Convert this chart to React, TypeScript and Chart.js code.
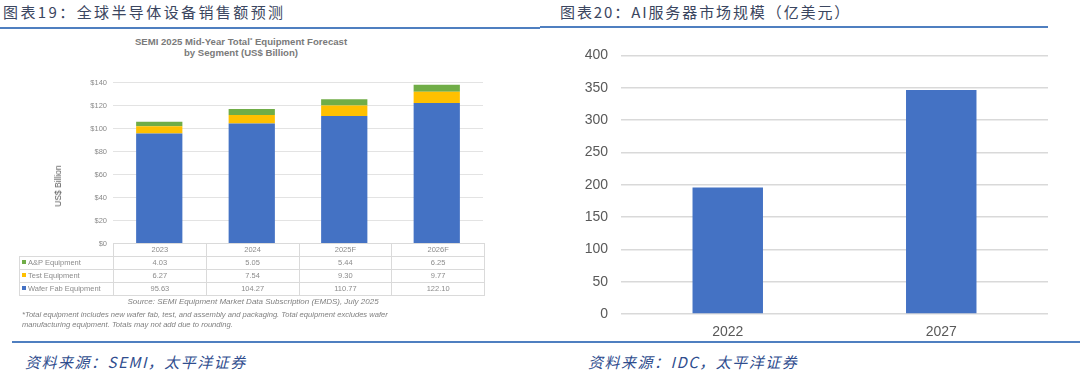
import React, { useEffect, useRef } from "react";
import { Chart, registerables } from "chart.js";

Chart.register(...registerables);

// ---------- Data: Figure 19 (SEMI equipment forecast) ----------
const semiYears = ["2023", "2024", "2025F", "2026F"];
const apEquipment = [4.03, 5.05, 5.44, 6.25];
const testEquipment = [6.27, 7.54, 9.3, 9.77];
const waferFabEquipment = [95.63, 104.27, 110.77, 122.1];
const semiSeriesNames = ["A&P Equipment", "Test Equipment", "Wafer Fab Equipment"];
const semiSeriesColors = ["#70AD47", "#FFC000", "#4472C4"];
const semiYMax = 140;
const semiYStep = 20;

// ---------- Data: Figure 20 (AI server market) ----------
const serverYears = ["2022", "2027"];
const serverMarket = [195.5, 346.5];
const serverYMax = 400;
const serverYStep = 50;

const SANS = "'Liberation Sans', Arial, sans-serif";
const CJK = "'Noto Sans CJK SC', sans-serif";

export default function App() {
  const leftRef = useRef<HTMLCanvasElement | null>(null);
  const rightRef = useRef<HTMLCanvasElement | null>(null);

  useEffect(() => {
    document.body.style.margin = "0";
    const charts: Chart[] = [];
    if (leftRef.current) {
      charts.push(
        new Chart(leftRef.current, {
          type: "bar",
          data: {
            labels: semiYears,
            datasets: [
              { label: semiSeriesNames[2], data: waferFabEquipment, backgroundColor: semiSeriesColors[2], borderWidth: 0 },
              { label: semiSeriesNames[1], data: testEquipment, backgroundColor: semiSeriesColors[1], borderWidth: 0 },
              { label: semiSeriesNames[0], data: apEquipment, backgroundColor: semiSeriesColors[0], borderWidth: 0 },
            ],
          },
          options: {
            animation: false,
            responsive: false,
            devicePixelRatio: 1,
            layout: { padding: { top: 0, right: 12, bottom: 0, left: 0 } },
            plugins: { legend: { display: false }, tooltip: { enabled: false }, title: { display: false } },
            datasets: { bar: { barPercentage: 0.5, categoryPercentage: 1 } },
            scales: {
              x: { stacked: true, display: false, offset: true },
              y: {
                stacked: true,
                min: 0,
                max: semiYMax,
                border: { display: false },
                grid: { color: "#E3E3E3", lineWidth: 1, drawTicks: false },
                ticks: {
                  stepSize: semiYStep,
                  padding: 6,
                  color: "#8A8A8A",
                  font: { family: SANS, size: 7.5 },
                  callback: (v: any) => "$" + v,
                },
                afterFit: (s: any) => {
                  s.width = 73;
                },
              },
            },
          },
        })
      );
    }
    if (rightRef.current) {
      charts.push(
        new Chart(rightRef.current, {
          type: "bar",
          data: {
            labels: serverYears,
            datasets: [{ label: "AI服务器市场规模", data: serverMarket, backgroundColor: "#4472C4", borderWidth: 0 }],
          },
          options: {
            animation: false,
            responsive: false,
            devicePixelRatio: 1,
            layout: { padding: { top: 0, right: 12, bottom: 0, left: 0 } },
            plugins: { legend: { display: false }, tooltip: { enabled: false } },
            datasets: { bar: { barPercentage: 0.33, categoryPercentage: 1 } },
            scales: {
              x: {
                border: { display: false },
                grid: { display: false, drawTicks: false },
                ticks: { padding: 10, color: "#595959", font: { family: SANS, size: 14 } },
                afterFit: (s: any) => {
                  s.height = 26;
                },
              },
              y: {
                min: 0,
                max: serverYMax,
                border: { display: false },
                grid: { color: "#D9D9D9", lineWidth: 1.5, drawTicks: false },
                ticks: { stepSize: serverYStep, padding: 13, color: "#595959", font: { family: SANS, size: 14 } },
                afterFit: (s: any) => {
                  s.width = 81;
                },
              },
            },
          },
        })
      );
    }
    return () => charts.forEach((c) => c.destroy());
  }, []);

  const titleStyle: React.CSSProperties = {
    position: "absolute",
    top: 3,
    height: 18,
    lineHeight: "18px",
    fontFamily: CJK,
    fontSize: 15,
    letterSpacing: 2.4,
    color: "#3B4660",
    whiteSpace: "nowrap",
  };
  const sourceStyle: React.CSSProperties = {
    position: "absolute",
    top: 352,
    height: 20,
    lineHeight: "20px",
    fontFamily: CJK,
    fontSize: 15,
    fontStyle: "italic",
    letterSpacing: 1.5,
    color: "#2F4D8E",
    whiteSpace: "nowrap",
  };
  const lineStyle = (left: number, top: number, width: number): React.CSSProperties => ({
    position: "absolute",
    left,
    top,
    width,
    height: 2,
    background: "#4F7FC0",
  });

  const cell: React.CSSProperties = {
    border: "1px solid #DADADA",
    padding: 0,
    height: 12,
    lineHeight: "12px",
    textAlign: "center",
    color: "#8C8C8C",
    fontSize: 7.5,
    fontFamily: SANS,
    overflow: "hidden",
    whiteSpace: "nowrap",
  };
  const rows = [
    { name: semiSeriesNames[0], color: semiSeriesColors[0], values: apEquipment },
    { name: semiSeriesNames[1], color: semiSeriesColors[1], values: testEquipment },
    { name: semiSeriesNames[2], color: semiSeriesColors[2], values: waferFabEquipment },
  ];

  return (
    <div style={{ position: "absolute", left: 0, top: 0, width: 1080, height: 373, background: "#fff", overflow: "hidden" }}>
      {/* Left panel */}
      <div style={{ ...titleStyle, left: 3 }}>图表19：全球半导体设备销售额预测</div>
      <div style={lineStyle(0, 27, 540)} />
      <div
        style={{
          position: "absolute",
          left: 0,
          width: 482,
          top: 35,
          textAlign: "center",
          fontFamily: SANS,
          fontWeight: "bold",
          fontSize: 9.6,
          lineHeight: "11px",
          color: "#7A7A7A",
        }}
      >
        SEMI 2025 Mid-Year Total<sup style={{ fontSize: 6, verticalAlign: "3px" }}>*</sup> Equipment Forecast
        <br />
        by Segment (US$ Billion)
      </div>
      <canvas ref={leftRef} width={455} height={182} style={{ position: "absolute", left: 40, top: 72, width: 455, height: 182 }} />
      <div
        style={{
          position: "absolute",
          left: 58,
          top: 186,
          transform: "translate(-50%, -50%) rotate(-90deg)",
          fontFamily: SANS,
          fontSize: 8.5,
          color: "#595959",
          whiteSpace: "nowrap",
        }}
      >
        US$ Billion
      </div>
      <table
        style={{
          position: "absolute",
          left: 19,
          top: 243,
          borderCollapse: "collapse",
          tableLayout: "fixed",
          width: 465,
        }}
      >
        <colgroup>
          <col style={{ width: 94 }} />
          {semiYears.map((y) => (
            <col key={y} style={{ width: 92.75 }} />
          ))}
        </colgroup>
        <tbody>
          <tr>
            <td style={{ ...cell, border: "none", borderRight: "1px solid #DADADA" }}></td>
            {semiYears.map((y) => (
              <td key={y} style={{ ...cell, background: "#fff" }}>
                {y}
              </td>
            ))}
          </tr>
          {rows.map((r) => (
            <tr key={r.name}>
              <td style={{ ...cell, textAlign: "left", paddingLeft: 2, background: "#fff" }}>
                <span
                  style={{
                    display: "inline-block",
                    width: 4,
                    height: 4,
                    background: r.color,
                    marginRight: 2,
                    verticalAlign: "middle",
                    position: "relative",
                    top: -1,
                  }}
                />
                {r.name}
              </td>
              {r.values.map((v, i) => (
                <td key={i} style={{ ...cell, background: "#fff" }}>
                  {v.toFixed(2)}
                </td>
              ))}
            </tr>
          ))}
        </tbody>
      </table>
      <div
        style={{
          position: "absolute",
          left: 0,
          width: 506,
          top: 297,
          textAlign: "center",
          fontFamily: SANS,
          fontStyle: "italic",
          fontSize: 8,
          lineHeight: "10px",
          color: "#808080",
          whiteSpace: "nowrap",
        }}
      >
        Source: SEMI Equipment Market Data Subscription (EMDS), July 2025
      </div>
      <div
        style={{
          position: "absolute",
          left: 22,
          top: 310,
          fontFamily: SANS,
          fontStyle: "italic",
          fontSize: 7.6,
          lineHeight: "10px",
          color: "#808080",
          whiteSpace: "nowrap",
        }}
      >
        *Total equipment includes new wafer fab, test, and assembly and packaging. Total equipment excludes wafer
        <br />
        manufacturing equipment. Totals may not add due to rounding.
      </div>
      <div style={lineStyle(12, 341, 528)} />
      <div style={{ ...sourceStyle, left: 25 }}>资料来源：SEMI，太平洋证券</div>

      {/* Right panel */}
      <div style={{ ...titleStyle, left: 560, letterSpacing: 1.9 }}>图表20：AI服务器市场规模（亿美元）</div>
      <div style={lineStyle(540, 26, 508)} />
      <canvas ref={rightRef} width={520} height={306} style={{ position: "absolute", left: 540, top: 34, width: 520, height: 306 }} />
      <div style={lineStyle(540, 341, 540)} />
      <div style={{ ...sourceStyle, left: 588 }}>资料来源：IDC，太平洋证券</div>
    </div>
  );
}
